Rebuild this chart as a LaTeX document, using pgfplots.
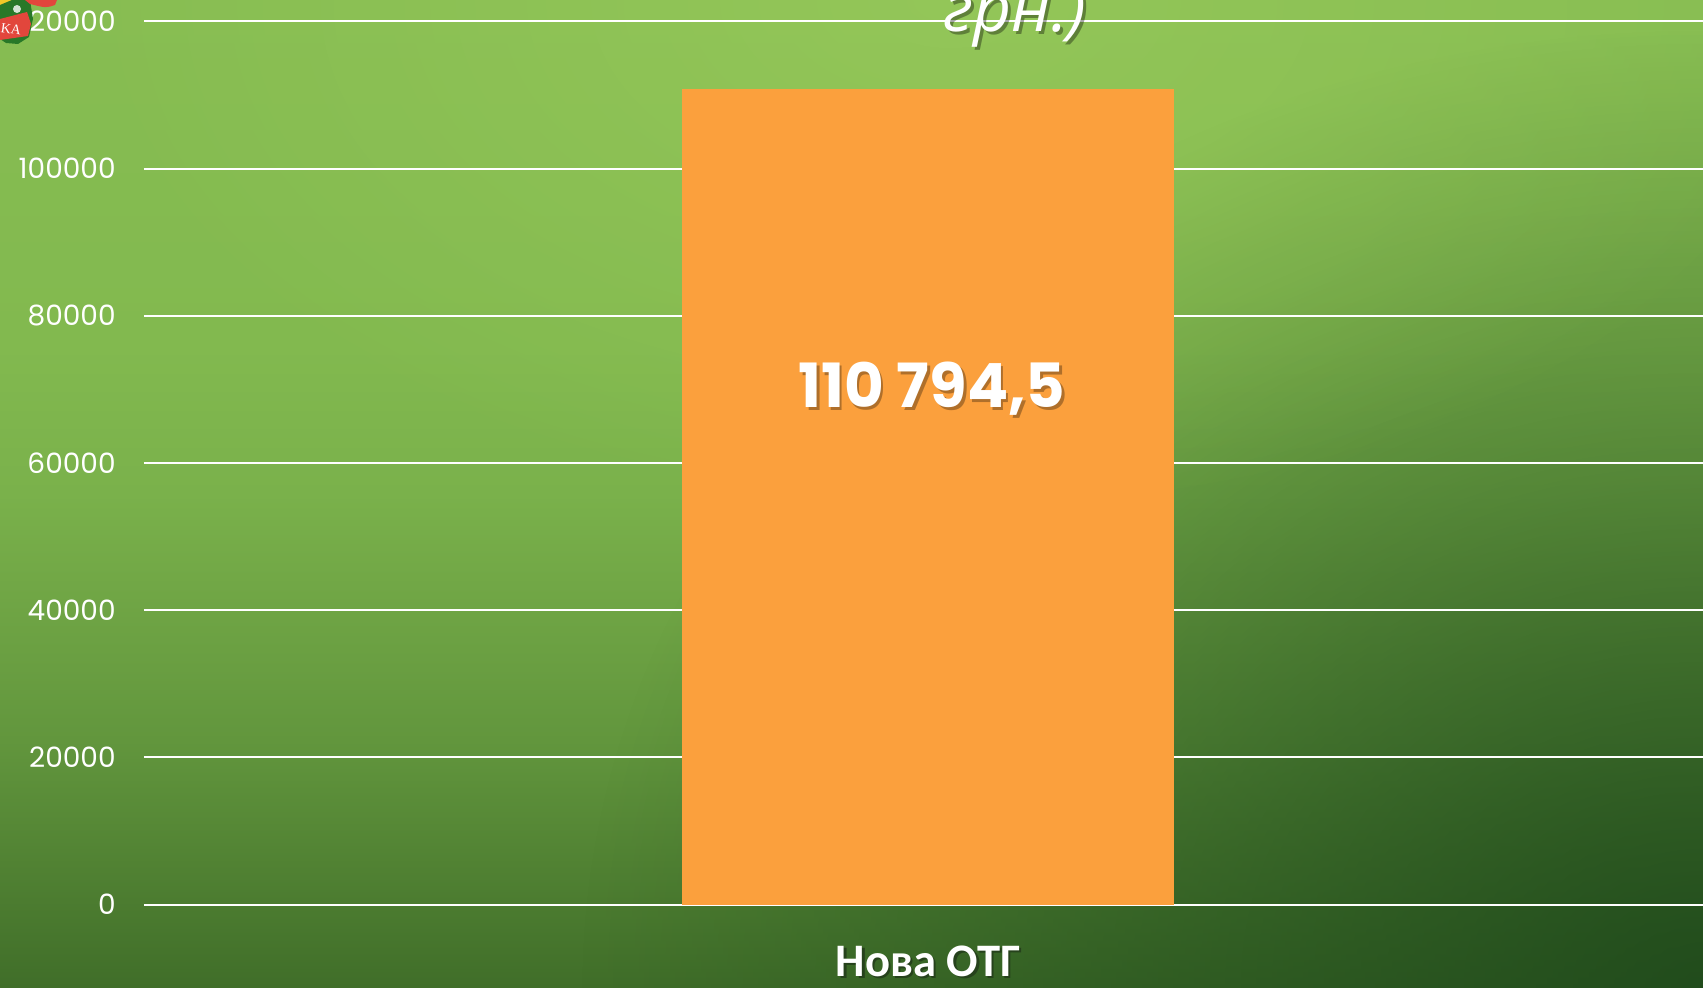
\documentclass[border=0pt]{standalone}
\usepackage{pgfplots}
\pgfplotsset{compat=1.18}
\usetikzlibrary{fadings}
\usepackage{fontspec}
\setmainfont{Poppins}
\newfontfamily\catfont{Carlito}
\newfontfamily\titlefont{Open Sans}
\newfontfamily\serifont{Liberation Serif}
\definecolor{barorange}{RGB}{251,160,61}
\definecolor{bgtop}{RGB}{135,189,82}
\definecolor{bgup}{RGB}{130,185,79}
\definecolor{bgmid}{RGB}{122,177,75}
\definecolor{bgq}{RGB}{98,150,61}
\definecolor{bgbot}{RGB}{64,110,41}
\definecolor{bgdark}{RGB}{28,70,26}
\definecolor{bglight}{RGB}{158,206,94}
\definecolor{shadowc}{RGB}{38,66,28}
\definecolor{logored}{RGB}{226,70,60}
\definecolor{logogreen}{RGB}{40,120,40}
\definecolor{logoyellow}{RGB}{240,200,40}
\pgfdeclareverticalshading{bgshade}{100bp}{color(0bp)=(bgbot); color(25bp)=(bgbot); color(37.5bp)=(bgq); color(50bp)=(bgmid); color(57.5bp)=(bgup); color(75bp)=(bgtop); color(100bp)=(bgtop)}
\tikzfading[name=radfade, inner color=transparent!15, outer color=transparent!100]
\tikzfading[name=radfadelight, inner color=transparent!45, outer color=transparent!100]
\newcommand\shtext[2][1.2pt]{\leavevmode\rlap{\kern#1\raisebox{-#1}{\textcolor{shadowc}{#2}}}#2}
\begin{document}
\begin{tikzpicture}[x=0.5pt,y=0.5pt]
\useasboundingbox (0,0) rectangle (1703,987);
\clip (0,0) rectangle (1703,987);
% background
\shade[shading=bgshade] (0,0) rectangle (1703,987);
\fill[bgdark, path fading=radfade] (1703,0) ellipse [x radius=560pt, y radius=480pt];
\fill[bglight, path fading=radfadelight] (950,987) ellipse [x radius=450pt, y radius=260pt];
\begin{axis}[
  at={(72pt,41.25pt)}, anchor=south west,
  scale only axis, width=779.5pt, height=441.5pt,
  xmin=-784, xmax=775, ymin=0, ymax=120000,
  ytick={0,20000,40000,60000,80000,100000,120000},
  yticklabels={0,20000,40000,60000,80000,100000,120000},
  scaled y ticks=false,
  xtick={0}, xticklabels={\shtext{Нова ОТГ}},
  axis line style={draw=none}, major tick length=0pt,
  ymajorgrids, major grid style={white, line width=1pt},
  clip=false,
  yticklabel style={font=\fontsize{14}{14}\selectfont, text=white, anchor=east, inner sep=0pt, xshift=-14pt},
  xticklabel style={font=\catfont\bfseries\fontsize{23.3}{24}\selectfont, text=white, anchor=base, inner sep=0pt, yshift=-36pt},
]
\addplot[ybar, bar width=246pt, fill=barorange, draw=none] coordinates {(0,110794.5)};
\node[font=\bfseries\fontsize{30.5}{30.5}\selectfont, text=black, text opacity=0.3, xshift=1.3pt, yshift=-1.3pt] at (axis cs:4,70055) {110 794,5};
\node[font=\bfseries\fontsize{30.5}{30.5}\selectfont, text=white] at (axis cs:4,70055) {110 794,5};
\end{axis}
% title fragment (cut off at top)
\node[font=\titlefont\itshape\fontsize{33}{33}\selectfont, anchor=base, text=black, text opacity=0.35, xshift=1.5pt, yshift=-1.5pt] at (1015,955) {грн.)};
\node[font=\titlefont\itshape\fontsize{33}{33}\selectfont, anchor=base, text=white] at (1015,955) {грн.)};
% logo fragment
\fill[logoyellow] (0,987) -- (12,987) -- (8,983) -- (0,982) -- cycle;
\fill[logogreen] (0,982) -- (12,987) -- (30,987) -- (33,968) -- (29,950) -- (18,943) -- (6,944) -- (0,948) -- cycle;
\fill[logored] (25,987) -- (57,987) -- (55,982) .. controls (46,979) .. (30,983) -- cycle;
\fill[logored] (0,968) -- (27,975) -- (31,963) -- (28,951) -- (0,947) -- cycle;
\node[text=white, font=\serifont\fontsize{7}{7}\selectfont, rotate=-8, inner sep=0pt] at (11,958) {KA};
\fill[white, opacity=0.8] (17,978) circle (4);
\end{tikzpicture}
\end{document}
